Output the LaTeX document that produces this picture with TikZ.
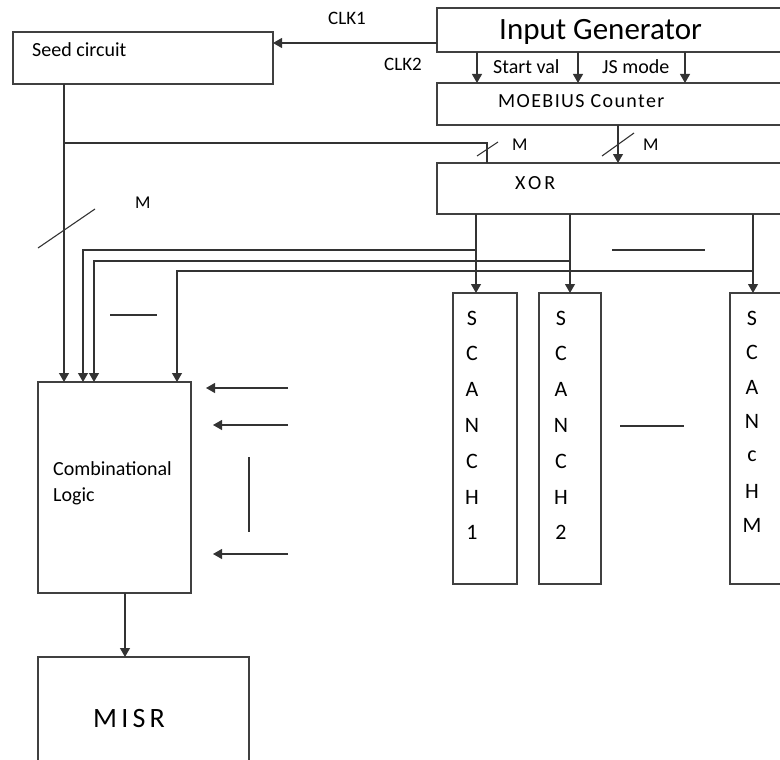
\documentclass[tikz,border=0pt]{standalone}
\usepackage{fontspec}
\setmainfont{Carlito}
\usetikzlibrary{arrows.meta}
\begin{document}
\begin{tikzpicture}[x=1pt,y=-1pt,
  box/.style={draw=black!75, line width=1.2pt, rectangle, inner sep=0pt, outer sep=0pt, anchor=north west},
  wire/.style={draw=black!80, line width=1.1pt},
  arr/.style={wire, -{Triangle[length=9pt,width=10pt]}},
  lbl/.style={inner sep=0pt, anchor=base west, font=\fontsize{20}{22}\selectfont},
  scl/.style={inner sep=0pt, anchor=center, font=\fontsize{22}{24}\selectfont}]
\useasboundingbox (0,0) rectangle (780,760);
\clip (0,0) rectangle (780,760);
% boxes
\node[box, minimum width=260pt, minimum height=52pt] (seed) at (13,32) {};
\node[box, minimum width=370pt, minimum height=44pt] (ig) at (437,8) {};
\node[box, minimum width=370pt, minimum height=42pt] (moeb) at (437,83) {};
\node[box, minimum width=370pt, minimum height=51pt] (xor) at (437,163) {};
\node[box, minimum width=64pt, minimum height=291pt] (sc1) at (453,293) {};
\node[box, minimum width=62pt, minimum height=291pt] (sc2) at (539,293) {};
\node[box, minimum width=64pt, minimum height=291pt] (scm) at (730,293) {};
\node[box, minimum width=153pt, minimum height=211pt] (comb) at (38,382) {};
\node[box, minimum width=211pt, minimum height=130pt] (misr) at (38,657) {};
% texts
\node[lbl, font=\fontsize{31}{34}\selectfont] (tig) at (499,40) {Input Generator};
\node[lbl] (tseed) at (32,57) {Seed circuit};
\node[lbl, font=\fontsize{19}{20}\selectfont] (tclk1) at (328,25) {CLK1};
\node[lbl, font=\fontsize{19}{20}\selectfont] (tclk2) at (384,71) {CLK2};
\node[lbl] (tsv) at (493,74) {Start val};
\node[lbl] (tjs) at (602,74) {JS mode};
\node[lbl, font={\fontsize{20}{22}\selectfont\addfontfeature{LetterSpace=7}}] (tmoeb) at (498,108) {MOEBIUS Counter};
\node[lbl, font={\fontsize{20}{22}\selectfont\addfontfeature{LetterSpace=15}}] (txor) at (515,189) {XOR};
\node[lbl, font=\fontsize{18}{20}\selectfont] (tm1) at (512,150) {M};
\node[lbl, font=\fontsize{18}{20}\selectfont] (tm2) at (643,150) {M};
\node[lbl, font=\fontsize{18}{20}\selectfont] (tm3) at (135,208) {M};
\node[lbl] (tcomb) at (53,475) {Combinational};
\node[lbl] (tlogic) at (53,501) {Logic};
\node[lbl, font={\fontsize{28}{30}\selectfont\addfontfeature{LetterSpace=15}}] (tmisr) at (93,727) {MISR};
% scan chain letters
\foreach \t [count=\i] in {S,C,A,N,C,H,1}
  \node[scl] (sa\i) at (472,{318+35.8*(\i-1)}) {\t};
\foreach \t [count=\i] in {S,C,A,N,C,H,2}
  \node[scl] (sb\i) at (561,{318+35.8*(\i-1)}) {\t};
\foreach \t [count=\i] in {S,C,A,N,c,H,M}
  \node[scl] (sm\i) at (752,{318+34.6*(\i-1)}) {\t};
% connectors
\draw[arr] (ig.west |- 0,43) -- (seed.east |- 0,43);
\foreach \x in {477,578,685}
  \draw[arr] (ig.south -| \x,0) -- (moeb.north -| \x,0);
\draw[arr] (moeb.south -| 618,0) -- (xor.north -| 618,0);
\draw[wire] (602,156) -- (634,133);
\draw[arr] (seed.south -| 64,0) -- (comb.north -| 64,0);
\coordinate (br) at (64,143);
\draw[wire] (br) -| (xor.north -| 487,0);
\draw[wire] (477,156) -- (498,142);
\draw[wire] (38,248) -- (95,209);
\draw[arr] (xor.south -| 476,0) -- (sc1.north -| 476,0);
\draw[arr] (xor.south -| sc2.north) -- (sc2.north);
\draw[arr] (xor.south -| 753,0) -- (scm.north -| 753,0);
\draw[arr] (476,250) -| (comb.north -| 83,0);
\draw[arr] (570,261) -| (comb.north -| 94,0);
\draw[arr] (753,271) -| (comb.north -| 177,0);
\draw[arr] (comb.south -| 125,0) -- (misr.north -| 125,0);
% inputs from the right
\coordinate (i1) at (288,388); \coordinate (o1) at (206,388);
\coordinate (i2) at (288,425); \coordinate (o2) at (213,425);
\coordinate (i3) at (288,554); \coordinate (o3) at (213,554);
\draw[arr] (i1) -- (o1);
\draw[arr] (i2) -- (o2);
\draw[arr] (i3) -- (o3);
\draw[wire] (249,457) -- (249,532);
% ellipsis dashes
\draw[wire] (110,315) -- (157,315);
\draw[wire] (612,250) -- (705,250);
\draw[wire] (620,426) -- (684,426);
\end{tikzpicture}
\end{document}
